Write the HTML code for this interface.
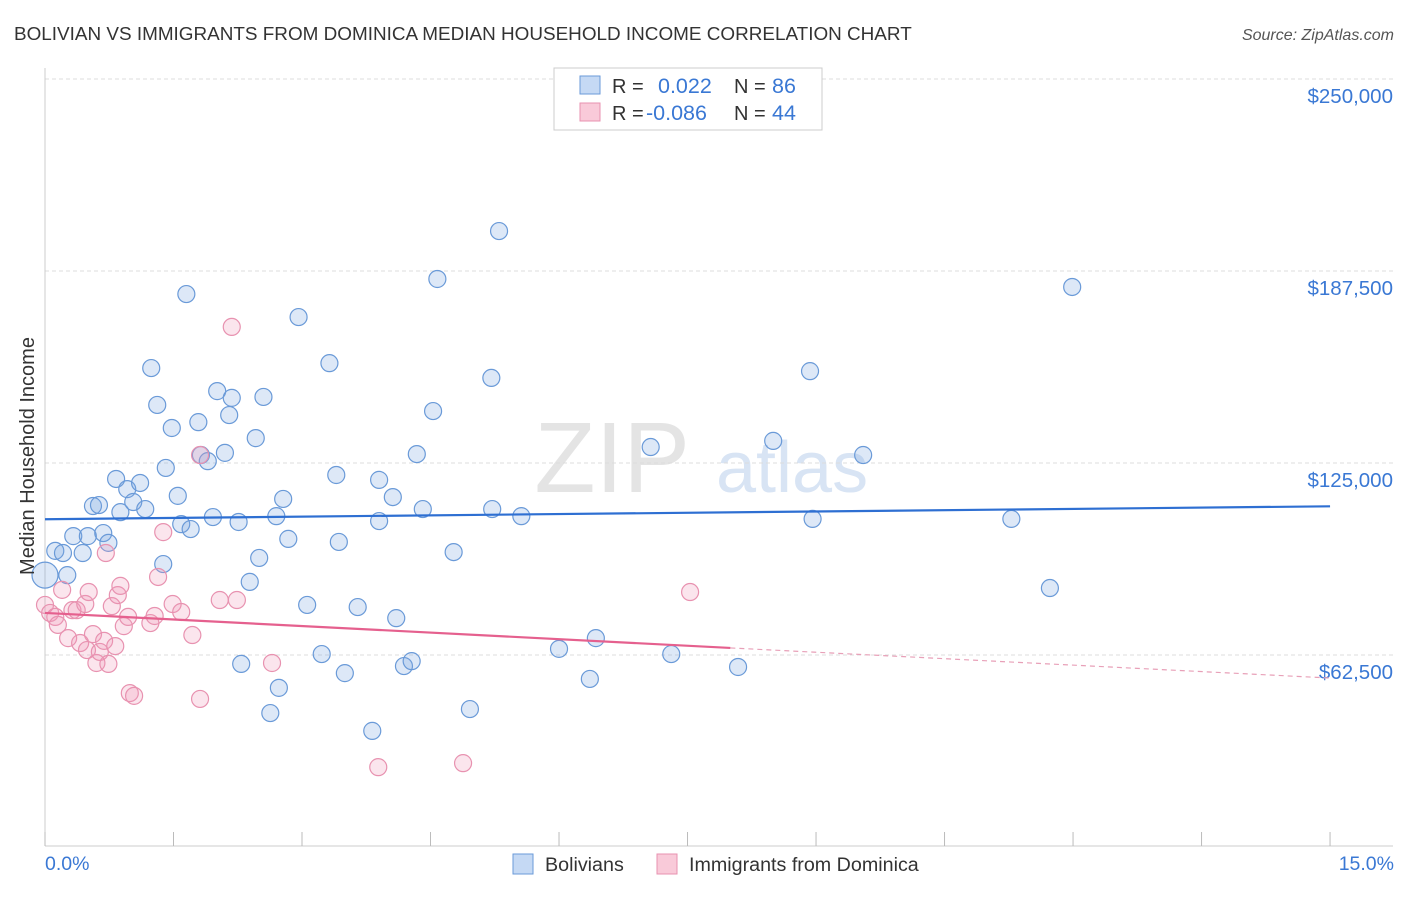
<!DOCTYPE html>
<html><head><meta charset="utf-8"><style>
body{margin:0;background:#fff;font-family:"Liberation Sans",sans-serif}
svg text{font-family:"Liberation Sans",sans-serif}
</style></head><body>
<svg id="chart" width="1406" height="892" xmlns="http://www.w3.org/2000/svg">
<text x="14" y="40" font-size="18.9" fill="#333">BOLIVIAN VS IMMIGRANTS FROM DOMINICA MEDIAN HOUSEHOLD INCOME CORRELATION CHART</text>
<text x="1394" y="40" font-size="16" fill="#555" text-anchor="end" font-style="italic">Source: ZipAtlas.com</text>
<text x="690" y="492" font-size="100" fill="#e4e4e4" text-anchor="end" font-family="Liberation Serif">ZIP</text>
<text x="716" y="492" font-size="72" fill="#d8e4f4">atlas</text>
<g id="grid"></g>
<g id="axes"></g>
<g id="marks"></g>
<text transform="translate(34,456) rotate(-90)" font-size="20" fill="#333" text-anchor="middle">Median Household Income</text>
<text x="45" y="870" font-size="19.5" fill="#3a78d4">0.0%</text>
<text x="1394" y="870" font-size="19.5" fill="#3a78d4" text-anchor="end">15.0%</text>
<g>
<rect x="554" y="68" width="268" height="62" fill="#fff" stroke="#ccc"/>
<rect x="580" y="76" width="20" height="18" fill="#c5d9f4" stroke="#6a9ad8"/>
<rect x="580" y="103" width="20" height="18" fill="#f9cad9" stroke="#e892b0"/>
<text x="612" y="93" font-size="20" fill="#333">R =</text>
<text x="658" y="93" font-size="21.5" fill="#3a78d4">0.022</text>
<text x="734" y="93" font-size="20" fill="#333">N =</text>
<text x="772" y="93" font-size="21.5" fill="#3a78d4">86</text>
<text x="612" y="120" font-size="20" fill="#333">R =</text>
<text x="646" y="120" font-size="21.5" fill="#3a78d4">-0.086</text>
<text x="734" y="120" font-size="20" fill="#333">N =</text>
<text x="772" y="120" font-size="21.5" fill="#3a78d4">44</text>
</g>
<g>
<rect x="513" y="854" width="20" height="20" fill="#c5d9f4" stroke="#6a9ad8"/>
<text x="545" y="871" font-size="19.7" fill="#333">Bolivians</text>
<rect x="657" y="854" width="20" height="20" fill="#f9cad9" stroke="#e892b0"/>
<text x="689" y="871" font-size="19.7" fill="#333">Immigrants from Dominica</text>
</g>
</svg>
<script>
const yTicks=[62500,125000,187500,250000];
const yTickLabels=["$62,500","$125,000","$187,500","$250,000"];
const bolX=[0,.12,.21,.26,.33,.44,.50,.56,.63,.68,.74,.83,.88,.96,1.03,1.11,1.17,1.24,1.31,1.38,1.41,1.48,1.55,1.59,1.65,1.70,1.79,1.82,1.90,1.96,2.01,2.10,2.15,2.18,2.26,2.29,2.39,2.46,2.50,2.55,2.63,2.70,2.73,2.78,2.84,2.96,3.06,3.23,3.32,3.40,3.43,3.50,3.65,3.82,3.90,3.90,4.06,4.10,4.19,4.28,4.34,4.41,4.53,4.58,4.77,4.96,5.21,5.22,5.30,5.56,6.00,6.36,6.43,7.07,7.31,8.09,8.50,8.93,8.96,9.55,11.28,11.73,11.99];
const bolY=[88.5,96.4,95.7,88.5,101.2,95.7,101.2,111.0,111.3,102.2,99.0,119.8,109.0,116.5,112.3,118.5,110.0,155.9,143.9,92.1,123.4,136.4,114.3,105.1,180.0,103.5,138.3,127.6,125.6,107.4,148.4,128.3,140.6,146.2,105.8,59.6,86.3,133.1,94.1,146.5,43.6,107.7,51.8,113.3,100.3,172.5,78.8,62.8,157.5,121.1,99.3,56.6,78.1,37.8,119.5,106.1,113.9,74.5,58.9,60.5,127.9,110.0,141.9,184.9,96.0,44.9,152.7,110.0,200.5,107.7,64.5,54.7,68.0,130.2,62.8,58.6,132.2,154.9,106.8,127.6,106.8,84.3,182.3];
const domX=[0,.06,.12,.15,.20,.27,.32,.37,.41,.47,.51,.49,.56,.60,.64,.69,.71,.74,.78,.82,.85,.88,.92,.97,.99,1.04,1.23,1.28,1.32,1.38,1.49,1.59,1.72,1.81,1.81,2.04,2.18,2.24,2.65,3.89,4.88,7.53];
const domY=[78.8,76.2,74.9,72.3,83.7,68.0,77.1,77.1,66.4,79.1,83.0,64.1,69.3,59.9,63.5,67.1,95.7,59.6,78.4,65.4,82.0,85.0,71.9,74.9,50.1,49.2,72.9,75.2,87.9,102.5,79.1,76.5,69.0,48.2,127.6,80.4,169.3,80.4,59.9,26.0,27.3,83.0];
const bolTrend=[106.7,110.9];
const domTrend=[76.2,64.8,55.0];
const NS="http://www.w3.org/2000/svg";
const X=p=>45+p*85.67;
const Y=v=>847-v*(192/62.5);
function mk(tag,attrs,parent){const e=document.createElementNS(NS,tag);for(const k in attrs)e.setAttribute(k,attrs[k]);parent.appendChild(e);return e;}
const grid=document.getElementById('grid'),axes=document.getElementById('axes'),marks=document.getElementById('marks');
yTicks.forEach((t,i)=>{
 const l=mk('line',{x1:45,x2:1393,y1:Y(t/1000),y2:Y(t/1000),stroke:'#ddd','stroke-dasharray':'4,3'},grid);
 
 
 const tx=mk('text',{x:1393,y:Y(t/1000)+24,'font-size':20.5,fill:'#3a78d4','text-anchor':'end'},axes);
 tx.textContent=yTickLabels[i];
 
 
});
const ax=mk('line',{x1:45,x2:1393,y1:846,y2:846,stroke:'#ccc'},axes);


const ay=mk('line',{x1:45,x2:45,y1:68,y2:846,stroke:'#ccc'},axes);


for(let i=0;i<=10;i++){const t=mk('line',{x1:X(i*1.5),x2:X(i*1.5),y1:832,y2:846,stroke:'#bbb'},axes);
 
 }
bolX.forEach((x,i)=>{const c=mk('circle',{cx:X(x),cy:Y(bolY[i]),r:i===0?13:8.5,fill:'rgba(120,165,225,0.25)',stroke:'#6a9ad8','stroke-width':1.2},marks);
 
 });
domX.forEach((x,i)=>{const c=mk('circle',{cx:X(x),cy:Y(domY[i]),r:8.5,fill:'rgba(240,150,185,0.25)',stroke:'#e892b0','stroke-width':1.2},marks);
 
 });
const bl=mk('line',{x1:X(0),y1:Y(bolTrend[0]),x2:X(15),y2:Y(bolTrend[1]),stroke:'#2e6fd2','stroke-width':2.2},marks);


const pl=mk('line',{x1:X(0),y1:Y(domTrend[0]),x2:X(8),y2:Y(domTrend[1]),stroke:'#e5608e','stroke-width':2.2},marks);


const pd=mk('line',{x1:X(8),y1:Y(domTrend[1]),x2:X(15),y2:Y(domTrend[2]),stroke:'#e8a0b8','stroke-width':1.2,'stroke-dasharray':'5,4'},marks);


</script>
</body></html>
